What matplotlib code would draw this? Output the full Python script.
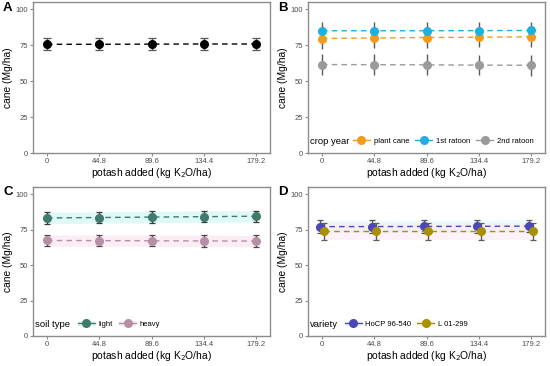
import numpy as np
import matplotlib
matplotlib.use("Agg")
import matplotlib.pyplot as plt
from matplotlib.lines import Line2D
from matplotlib.patches import Patch

plt.rcParams["font.family"] = ["Liberation Sans", "DejaVu Sans"]

# potash rates (kg K2O/ha)
potash = [0, 44.8, 89.6, 134.4, 179.2]
tick_labels = ["0", "44.8", "89.6", "134.4", "179.2"]

# A: overall
all_mean = [75.6, 75.6, 75.7, 75.8, 75.8]
all_err = [4.2, 4.2, 4.2, 4.2, 4.2]

# B: crop year
plant_mean = [79.6, 80.0, 80.3, 80.5, 80.8]
plant_err = [7.0, 7.0, 7.0, 7.0, 7.0]
rat1_mean = [85.0, 85.0, 85.0, 85.1, 85.2]
rat1_err = [6.0, 6.0, 6.0, 6.0, 6.0]
rat2_mean = [61.5, 61.4, 61.3, 61.1, 61.0]
rat2_err = [7.2, 7.2, 7.2, 7.2, 7.2]

# C: soil type
light_mean = [83.2, 83.5, 83.8, 84.1, 84.4]
light_err = [4.0, 4.0, 4.0, 4.0, 4.0]
heavy_mean = [67.3, 67.2, 67.1, 67.0, 66.9]
heavy_err = [4.0, 4.0, 4.0, 4.0, 4.0]

# D: variety
hocp_mean = [77.1, 77.1, 77.2, 77.3, 77.4]
hocp_err = [4.4, 4.4, 4.4, 4.4, 4.4]
l01_mean = [73.9, 73.9, 73.9, 73.9, 73.9]
l01_err = [6.0, 6.0, 6.0, 6.0, 6.0]

GRAY = "#8C8C8C"
TXT = "#4D4D4D"


def style_axes(ax):
    ax.set_xlim(-12, 191)
    ax.set_ylim(0, 105)
    ax.set_xticks(potash)
    ax.set_xticklabels(tick_labels)
    ax.set_yticks([0, 25, 50, 75, 100])
    ax.tick_params(labelsize=5.5, labelcolor=TXT, color=GRAY, length=2.2,
                   width=0.8, pad=1.5)
    for s in ax.spines.values():
        s.set_color(GRAY)
        s.set_linewidth(1.0)
    ax.set_ylabel("cane (Mg/ha)", fontsize=7.4)
    ax.set_xlabel("potash added (kg K$_2$O/ha)", fontsize=7.4)
    ax.yaxis.set_label_coords(-0.085, 0.5)
    ax.xaxis.set_label_coords(0.5, -0.085)


def series(ax, x, mean, err, color, ecolor, dx=0.0, capsize=2.5, band=None):
    xs = np.array(x) + dx
    m = np.array(mean)
    e = np.array(err)
    if band is not None:
        ax.fill_between(xs, m - e, m + e, color=band, alpha=0.45, lw=0, zorder=1)
    ax.plot(xs, m, ls=(0, (4, 3)), color=color, lw=1.0, zorder=2)
    ax.errorbar(xs, m, yerr=e, fmt="none", ecolor=ecolor, elinewidth=1.0,
                capsize=capsize, capthick=0.9, zorder=3)
    ax.plot(xs, m, "o", color=color, ms=5.5, mec=color, zorder=4)


def legend(ax, title, x0, labels, colors, bands=None):
    ax.text(0.008, 0.078, title, transform=ax.transAxes, fontsize=6.8,
            va="center", ha="left")
    handles = []
    for i, c in enumerate(colors):
        ln = Line2D([], [], color=c, lw=1.0, marker="o", ms=5.5)
        if bands is not None:
            handles.append((Patch(color=bands[i], alpha=0.45, lw=0), ln))
        else:
            handles.append(ln)
    ax.legend(handles, labels, loc="center left", bbox_to_anchor=(x0, 0.078),
              ncol=len(labels), frameon=False, fontsize=5.5, handlelength=2.2,
              handletextpad=0.5, columnspacing=0.8, borderpad=0,
              borderaxespad=0)


fig = plt.figure(figsize=(5.5, 3.66), dpi=100)
w, h1, h2 = 237 / 550, 151 / 366, 149 / 366
axA = fig.add_axes([33 / 550, 213 / 366, w, h1])
axB = fig.add_axes([308 / 550, 213 / 366, w, h1])
axC = fig.add_axes([33 / 550, 30 / 366, w, h2])
axD = fig.add_axes([308 / 550, 30 / 366, w, h2])

# A
series(axA, potash, all_mean, all_err, "black", "#555555", capsize=3.2)
style_axes(axA)

# B
c_plant, c_r1, c_r2 = "#F49B1A", "#1DB0E3", "#9A9A9A"
series(axB, potash, rat2_mean, rat2_err, c_r2, "#5A5A5A", capsize=0)
series(axB, potash, plant_mean, plant_err, c_plant, "#5A5A5A", capsize=0)
series(axB, potash, rat1_mean, rat1_err, c_r1, "#5A5A5A", capsize=0)
style_axes(axB)
legend(axB, "crop year", 0.19, ["plant cane", "1st ratoon", "2nd ratoon"],
       [c_plant, c_r1, c_r2])

# C
c_light, c_heavy = "#3F7A6B", "#B590A5"
b_light, b_heavy = "#B8F2EE", "#FAD6E8"
series(axC, potash, light_mean, light_err, c_light, "#3A3A3A", band=b_light)
series(axC, potash, heavy_mean, heavy_err, c_heavy, "#4A4A4A", band=b_heavy)
style_axes(axC)
legend(axC, "soil type", 0.19, ["light", "heavy"], [c_light, c_heavy],
       bands=[b_light, b_heavy])

# D
c_hocp, c_l01 = "#4A47B8", "#A89000"
b_hocp, b_l01 = "#D8F7F5", "#FBE3EF"
series(axD, potash, hocp_mean, hocp_err, c_hocp, "#555555", dx=-2.0,
       band=b_hocp)
series(axD, potash, l01_mean, l01_err, c_l01, "#6A5A4A", dx=1.5, band=b_l01)
style_axes(axD)
legend(axD, "variety", 0.155, ["HoCP 96-540", "L 01-299"], [c_hocp, c_l01],
       bands=[b_hocp, b_l01])

for lab, x, y in [("A", 3, 8), ("B", 278, 8), ("C", 3, 192), ("D", 278, 192)]:
    fig.text(x / 550, 1 - y / 366, lab, fontsize=9.5, fontweight="bold",
             ha="left", va="center")

fig.savefig("out.png", dpi=100)
